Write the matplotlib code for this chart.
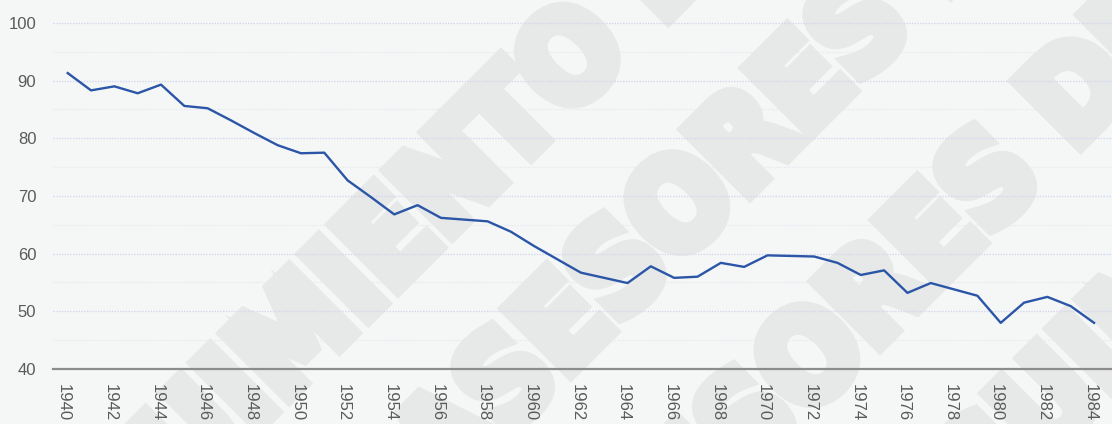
import matplotlib
matplotlib.use("Agg")
import matplotlib.pyplot as plt
import matplotlib.transforms as mtransforms
import matplotlib.patheffects as pe
from matplotlib.ticker import MultipleLocator

# data
years = list(range(1940, 1985))
values = [91.3, 88.3, 89.0, 87.8, 89.3, 85.6, 85.2, 83.1, 80.9, 78.8,
          77.4, 77.5, 72.7, 69.8, 66.8, 68.4, 66.2, 65.9, 65.6, 63.8,
          61.3, 59.0, 56.7, 55.8, 54.9, 57.8, 55.8, 56.0, 58.4, 57.7,
          59.7, 59.6, 59.5, 58.4, 56.3, 57.1, 53.2, 54.9, 53.8, 52.7,
          48.0, 51.5, 52.5, 50.9, 48.0]
tick_years = years[::2]
y_ticks = [40, 50, 60, 70, 80, 90, 100]

# watermark stripes: text, centre in image pixels (x, y from top)
wm_texts = ["SEGUIMIENTO DE", "ASESORES DE", "ASESORES DE", "SEGUIMIENTO DE"]
wm_centers = [(372, 266), (730, 165), (860, 317), (1228, 232)]

W, H = 1112, 424
bg = "#f5f7f7"
wm_color = "#e7e8e8"

fig = plt.figure(figsize=(W / 100, H / 100), dpi=100, facecolor=bg)

for txt, (cx, cy) in zip(wm_texts, wm_centers):
    fig.text(cx / W, 1 - cy / H, txt, rotation=45, rotation_mode="anchor",
             ha="center", va="center", fontsize=90, fontweight="bold",
             fontstretch="condensed", family="DejaVu Sans",
             color=wm_color, zorder=-5,
             path_effects=[pe.withStroke(linewidth=10, foreground=wm_color,
                                         joinstyle="miter")])

# 40 at y=369 px, 100 at y=23 px
ax = fig.add_axes([53 / W, 55 / H, 1 - 53 / W, 349 / H])
ax.set_facecolor("none")

ax.plot(years, values, color="#2b55a6", lw=1.7, zorder=3)

ax.set_xlim(1939.37, 1984.77)
ax.set_ylim(40, 100.5)
ax.set_yticks(y_ticks)
ax.yaxis.set_minor_locator(MultipleLocator(5))
ax.set_xticks(tick_years)
ax.set_xticklabels([str(y) for y in tick_years], rotation=-90, va="top", ha="center")

ax.grid(axis="y", which="major", color="#d3d7ef", lw=1, ls=(0, (1, 1)))
ax.grid(axis="y", which="minor", color="#e6e8ef", lw=1, ls=(0, (1, 1)))
ax.grid(axis="x", visible=False)
ax.set_axisbelow(True)

for s in ["left", "right", "top"]:
    ax.spines[s].set_visible(False)
ax.spines["bottom"].set_color("#8c8c8c")
ax.spines["bottom"].set_linewidth(1.6)
ax.spines["bottom"].set_zorder(4)

ax.tick_params(axis="both", which="both", length=0, labelsize=12,
               labelcolor="#5a5a5a")
ax.tick_params(axis="y", pad=12)
ax.tick_params(axis="x", pad=11)
for lab in ax.get_xticklabels() + ax.get_yticklabels():
    lab.set_family(["Liberation Sans", "DejaVu Sans"])

shift = mtransforms.ScaledTranslation(-4 / 100, 0, fig.dpi_scale_trans)
for lab in ax.get_xticklabels():
    lab.set_transform(lab.get_transform() + shift)

fig.savefig("out.png", dpi=100, facecolor=bg)
